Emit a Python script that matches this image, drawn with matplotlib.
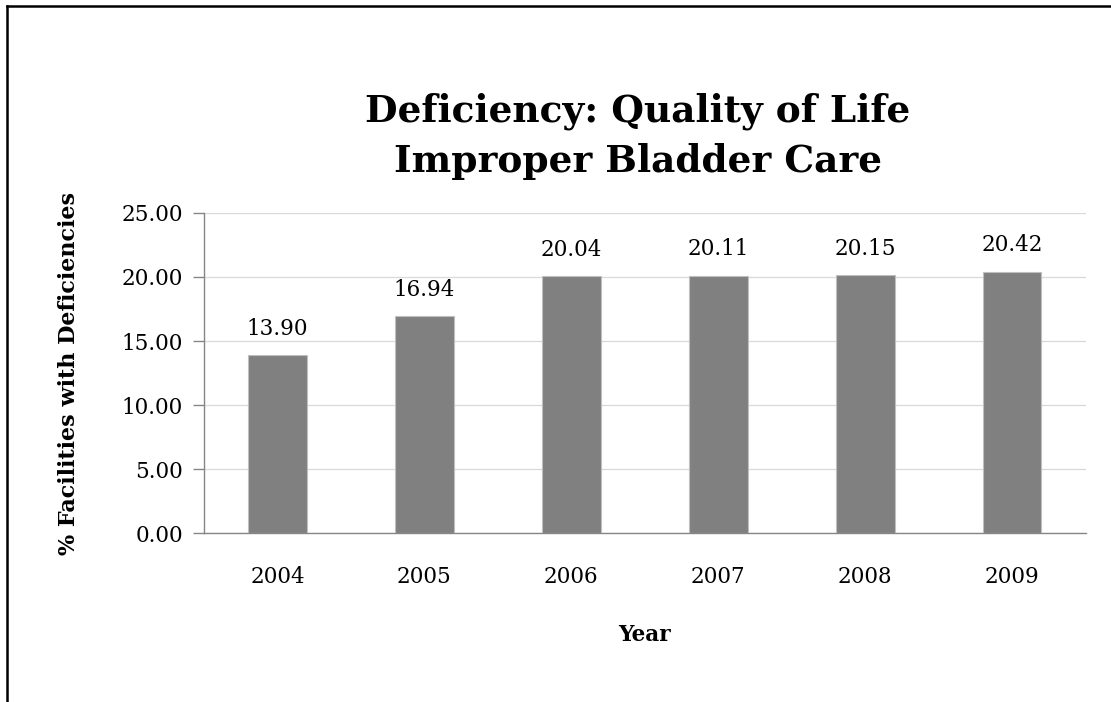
import matplotlib.pyplot as plt
from matplotlib.lines import Line2D

plt.rcParams['font.family'] = 'DejaVu Serif'

# --- Data
years = ["2004", "2005", "2006", "2007", "2008", "2009"]
pct_deficient = [13.90, 16.94, 20.04, 20.11, 20.15, 20.42]
y_ticks = [0, 5, 10, 15, 20, 25]

fig = plt.figure(figsize=(11.11, 7.02), dpi=100)
ax = fig.add_axes([0.1836, 0.2407, 0.7935, 0.4559])

x = range(len(years))
bars = ax.bar(x, pct_deficient, width=0.4, color="#808080",
              edgecolor="#bfbfbf", linewidth=0.8, zorder=3)

for xi, v in zip(x, pct_deficient):
    ax.annotate(f"{v:.2f}", xy=(xi, v), xytext=(0, 11), textcoords="offset points",
                ha="center", va="bottom", fontsize=15.5, color="black")

ax.set_xlim(-0.5, len(years) - 0.5)
ax.set_ylim(0, 25)
ax.set_yticks(y_ticks)
ax.set_yticklabels([f"{t:.2f}" for t in y_ticks])
ax.set_xticks(list(x))
ax.set_xticklabels(years)

ax.grid(axis="y", color="#d9d9d9", lw=0.9, zorder=0)
ax.set_axisbelow(True)

for s in ["top", "right"]:
    ax.spines[s].set_visible(False)
for s in ["left", "bottom"]:
    ax.spines[s].set_color("#868686")
    ax.spines[s].set_linewidth(1.0)

ax.tick_params(axis="y", length=8, width=1.0, color="#868686", labelsize=15.5, pad=7)
ax.tick_params(axis="x", length=0, labelsize=15.5, pad=24)

ax.set_xlabel("Year", fontsize=15.5, weight="bold", labelpad=26)
ax.set_ylabel("% Facilities with Deficiencies", fontsize=16, weight="bold", labelpad=30)

fig.text(0.574, 0.806, "Deficiency: Quality of Life\nImproper Bladder Care",
         ha="center", va="center", fontsize=27, weight="bold", linespacing=1.42)

# frame lines along the top and left edges
fig.add_artist(Line2D([0.006, 1.0], [0.992, 0.992], transform=fig.transFigure,
                      color="black", lw=1.8))
fig.add_artist(Line2D([0.006, 0.006], [0.0, 0.992], transform=fig.transFigure,
                      color="black", lw=1.8))

fig.savefig("out.png", dpi=100, facecolor="white")
